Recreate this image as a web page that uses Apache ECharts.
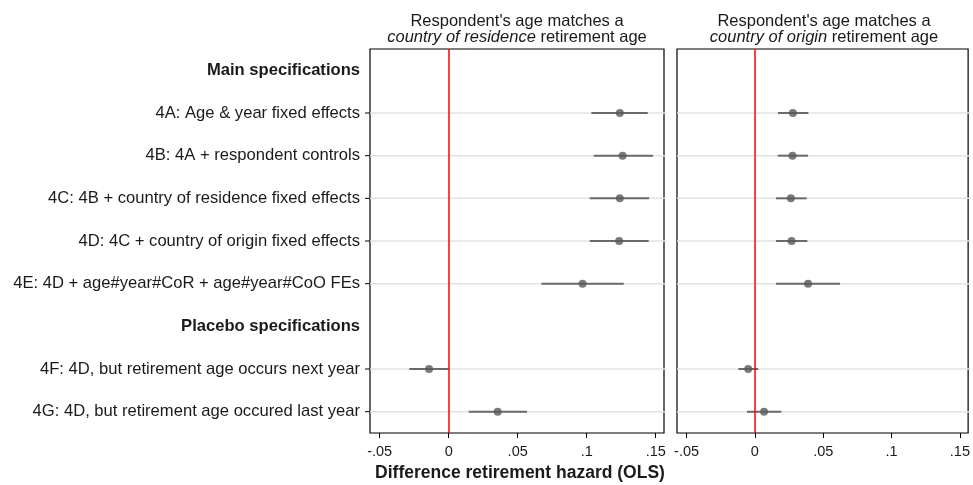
<!DOCTYPE html>
<html>
<head>
<meta charset="utf-8">
<script src="https://cdn.jsdelivr.net/npm/echarts@6/dist/echarts.min.js"></script>
<style>
  html, body { margin: 0; padding: 0; background: #fff; }
  #chart { width: 973px; height: 485px; }
</style>
</head>
<body>
<div id="chart"></div>
<script>
// Row layout of the coefficient plot (top to bottom); section headers carry no estimate
const rows = [
  'Main specifications',
  '4A: Age & year fixed effects',
  '4B: 4A + respondent controls',
  '4C: 4B + country of residence fixed effects',
  '4D: 4C + country of origin fixed effects',
  '4E: 4D + age#year#CoR + age#year#CoO FEs',
  'Placebo specifications',
  '4F: 4D, but retirement age occurs next year',
  '4G: 4D, but retirement age occured last year'
];
const headers = ['Main specifications', 'Placebo specifications'];
const specs = rows.filter(r => headers.indexOf(r) < 0);

// Country of residence retirement age: point estimates and confidence bounds
const residenceCoef = [0.124, 0.126, 0.124, 0.1235, 0.097, -0.0142, 0.0355];
const residenceLo   = [0.1034, 0.1051, 0.1022, 0.1022, 0.0672, -0.0285, 0.0145];
const residenceHi   = [0.1442, 0.1481, 0.1452, 0.1449, 0.1268, 0.0, 0.0568];

// Country of origin retirement age: point estimates and confidence bounds
const originCoef = [0.0278, 0.0275, 0.0263, 0.0268, 0.0389, -0.0049, 0.0067];
const originLo   = [0.0169, 0.0167, 0.0154, 0.0154, 0.0154, -0.0121, -0.0058];
const originHi   = [0.0391, 0.0389, 0.0379, 0.0384, 0.0623, 0.0024, 0.0193];

// x axis
const xMin = -0.057, xMax = 0.156;
const tickValues = [-0.05, 0, 0.05, 0.1, 0.15];
const tickLabels = ['-.05', '0', '.05', '.1', '.15'];

const FONT = '"Liberation Sans", Arial, Helvetica, sans-serif';
const ink = '#1a1a1a';

const chart = echarts.init(document.getElementById('chart'), null, { renderer: 'canvas' });

const grids = [
  { left: 370, top: 49, width: 294, height: 384 },
  { left: 677, top: 49, width: 294, height: 384 }
];

function xAxisFor(i) {
  return {
    type: 'value', gridIndex: i, min: xMin, max: xMax,
    axisLine: { show: false },
    splitLine: { show: false },
    axisTick: { show: true, length: 5, customValues: tickValues, lineStyle: { color: '#000', width: 1 } },
    axisLabel: {
      customValues: tickValues, margin: 11,
      fontFamily: FONT, fontSize: 14.5, color: ink,
      formatter: v => {
        const k = tickValues.findIndex(t => Math.abs(t - v) < 1e-9);
        return k >= 0 ? tickLabels[k] : '';
      }
    }
  };
}

function yAxisFor(i) {
  return {
    type: 'category', gridIndex: i, data: rows, inverse: true,
    axisLine: { show: false },
    splitLine: { show: false },
    axisTick: { show: false },
    axisLabel: {
      show: i === 0, margin: 10, interval: 0,
      fontFamily: FONT, fontSize: 16.6, color: ink,
      formatter: v => headers.indexOf(v) >= 0 ? '{b|' + v + '}' : v,
      rich: { b: { fontFamily: FONT, fontSize: 16.6, fontWeight: 'bold', color: ink } }
    }
  };
}

// Light reference line through each specification row (with a short outer tick on
// the labelled panel), plus the red zero line
function guideSeries(i) {
  return {
    type: 'custom', xAxisIndex: i, yAxisIndex: i, silent: true, z: 1, clip: false,
    data: specs.map(s => [s]),
    encode: { y: 0 },
    renderItem: (params, api) => {
      const a = api.coord([xMin, api.value(0)]);
      const b = api.coord([xMax, api.value(0)]);
      const children = [{
        type: 'line',
        shape: { x1: a[0], y1: a[1], x2: b[0] + 2, y2: b[1] },
        style: { stroke: '#e2e2e2', lineWidth: 1.5 }
      }];
      if (i === 0) {
        children.push({
          type: 'line',
          shape: { x1: a[0] - 5, y1: a[1], x2: a[0], y2: a[1] },
          style: { stroke: '#000', lineWidth: 1 }
        });
      }
      return { type: 'group', children: children };
    },
    markLine: {
      silent: true, symbol: 'none', animation: false,
      label: { show: false },
      lineStyle: { color: '#ff0000', width: 1.5, type: 'solid' },
      data: [{ xAxis: 0 }]
    }
  };
}

function ciSeries(i, lo, hi) {
  return {
    type: 'custom', xAxisIndex: i, yAxisIndex: i, silent: true, z: 3,
    data: specs.map((s, k) => [lo[k], hi[k], s]),
    encode: { x: [0, 1], y: 2 },
    renderItem: (params, api) => {
      const a = api.coord([api.value(0), api.value(2)]);
      const b = api.coord([api.value(1), api.value(2)]);
      return {
        type: 'line',
        shape: { x1: a[0], y1: a[1], x2: b[0], y2: b[1] },
        style: { stroke: '#6a6a6a', lineWidth: 2 }
      };
    }
  };
}

function pointSeries(i, coef) {
  return {
    type: 'scatter', xAxisIndex: i, yAxisIndex: i, silent: true, z: 4,
    symbol: 'circle', symbolSize: 8,
    itemStyle: { color: '#595959' },
    data: specs.map((s, k) => [coef[k], s])
  };
}

const panelTitle = (cx, italicPart) => ({
  type: 'text', x: cx, y: 13, silent: true,
  style: {
    text: "Respondent's age matches a\n{i|" + italicPart + "} retirement age",
    fontFamily: FONT, fontSize: 16.5, fill: ink,
    align: 'center', verticalAlign: 'top', lineHeight: 16,
    rich: { i: { fontFamily: FONT, fontSize: 16.5, fontStyle: 'italic', fill: ink, lineHeight: 16 } }
  }
});

chart.setOption({
  animation: false,
  backgroundColor: '#fff',
  grid: grids.map(g => Object.assign({ show: true, borderColor: '#000', borderWidth: 1.2, backgroundColor: 'transparent' }, g)),
  xAxis: [xAxisFor(0), xAxisFor(1)],
  yAxis: [yAxisFor(0), yAxisFor(1)],
  series: [
    guideSeries(0), ciSeries(0, residenceLo, residenceHi), pointSeries(0, residenceCoef),
    guideSeries(1), ciSeries(1, originLo, originHi), pointSeries(1, originCoef)
  ],
  graphic: [
    panelTitle(517, 'country of residence'),
    panelTitle(824, 'country of origin'),
    {
      type: 'text', x: 520, y: 473, silent: true,
      style: {
        text: 'Difference retirement hazard (OLS)',
        fontFamily: FONT, fontSize: 17.5, fontWeight: 'bold', fill: ink,
        align: 'center', verticalAlign: 'middle'
      }
    }
  ]
});
</script>
</body>
</html>
